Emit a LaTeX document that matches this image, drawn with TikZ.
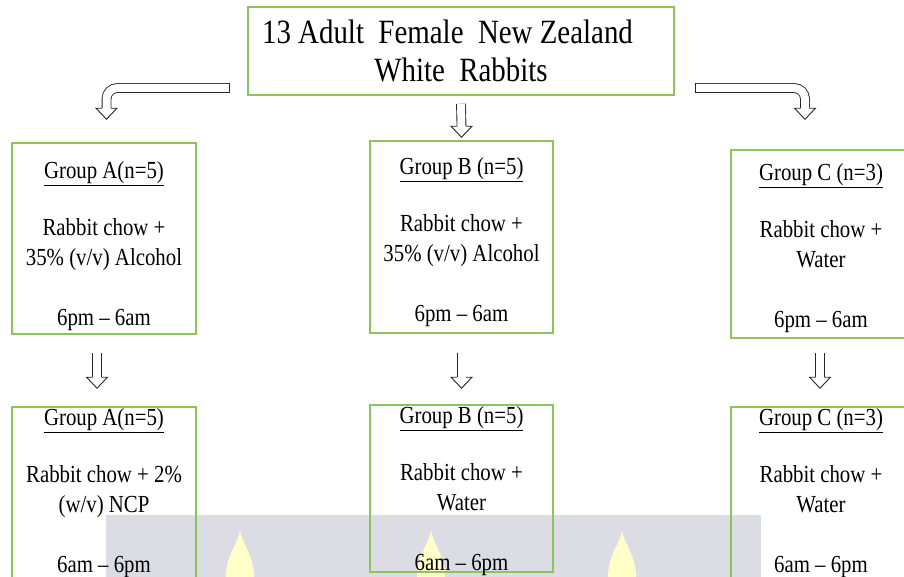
\documentclass[tikz,border=0pt]{standalone}
\usepackage{fontspec}
\setmainfont{Liberation Serif}[FakeStretch=0.85]
\usepackage{tikz}
\usetikzlibrary{positioning,calc}
\definecolor{boxgreen}{RGB}{140,196,90}
\definecolor{markgray}{RGB}{220,220,229}
\definecolor{markflame}{RGB}{255,255,200}
% open arrow head, tip at #1
\newcommand{\hollowhead}[1]{%
  \filldraw[fill=white,draw=black!85,line width=0.9pt,line join=miter]
    ($(#1)+(-4.45,-11)$) -- ++(-6,0) -- (#1) -- ++(10.45,-11) -- ++(-6,0);}

\begin{document}
\begin{tikzpicture}[x=1pt,y=-1pt,
  grp/.style={draw=boxgreen,line width=1.5pt,inner sep=0pt},
  grptext/.style={align=center,inner sep=0pt,font=\fontsize{24.5}{30}\selectfont},
  hollow/.style={draw=black!85,double=white,double distance=8pt,line width=0.9pt}]
\useasboundingbox (0,0) rectangle (904,577);
\fill[white] (0,0) rectangle (904,577);
% Watermark
\fill[markgray] (106,515) rectangle (761,577);
\foreach \fx in {240,431,622}
  \fill[markflame] (\fx,531) .. controls (\fx-3,545) and (\fx-14,556) .. (\fx-14,577)
    -- (\fx+14,577) .. controls (\fx+14,556) and (\fx+3,545) .. (\fx,531);
% Top box
\node[draw=boxgreen,line width=1.5pt,minimum width=426pt,minimum height=88pt,
  align=center,font=\fontsize{34}{38}\selectfont] (rabbits) at (461,51)
  {13 Adult~~Female~~New Zealand\hspace*{27pt}\\White~~Rabbits};
% Night: 6pm - 6am
\node[grp,minimum width=184pt,minimum height=191pt] (grpA1) at (104,238.5) {};
\node[grp,minimum width=183pt,minimum height=192pt] (grpB1) at (461.5,237) {};
\node[grp,minimum width=180pt,minimum height=188pt] (grpC1) at (821,244) {};
\node[grptext] (txtA1) at ($(grpA1.center)+(0,8)$)
  {\underline{Group A(n=5)}\\[27pt]Rabbit chow +\\35\% (v/v) Alcohol\\[30pt]6pm – 6am};
\node[grptext] (txtB1) at ($(grpB1.center)+(0,5)$)
  {\underline{Group B (n=5)}\\[27pt]Rabbit chow +\\35\% (v/v) Alcohol\\[30pt]6pm – 6am};
\node[grptext] (txtC1) at ($(grpC1.center)+(0,4)$)
  {\underline{Group C (n=3)}\\[27pt]Rabbit chow +\\Water\\[30pt]6pm – 6am};
% Day: 6am - 6pm
\node[grp,minimum width=184pt,minimum height=172pt] (grpA2) at (104,493) {};
\node[grp,minimum width=183pt,minimum height=167pt] (grpB2) at (461.5,488.5) {};
\node[grp,minimum width=180pt,minimum height=172pt] (grpC2) at (821,493) {};
\node[grptext] (txtA2) at (grpA2.center)
  {\underline{Group A(n=5)}\\[27pt]Rabbit chow + 2\%\\(w/v) NCP\\[30pt]6am – 6pm};
\node[grptext] (txtB2) at ($(grpB2.center)+(0,3)$)
  {\underline{Group B (n=5)}\\[27pt]Rabbit chow +\\Water\\[30pt]6am – 6pm};
\node[grptext] (txtC2) at (grpC2.center)
  {\underline{Group C (n=3)}\\[27pt]Rabbit chow +\\Water\\[30pt]6am – 6pm};
% Split arrows
\coordinate (barL) at ($(rabbits.west)+(-18,37)$);
\coordinate (tipL) at ($(grpA1.north)+(2.5,-23)$);
\draw[hollow,rounded corners=11pt] (barL) -| ($(tipL)+(0,-11)$);
\draw[black!85,line width=0.9pt] ($(barL)+(0,-4.9)$) -- ($(barL)+(0,4.9)$);
\hollowhead{tipL}
\coordinate (barR) at ($(rabbits.east)+(21,37)$);
\coordinate (tipR) at ($(grpC1.north)+(-16,-30)$);
\draw[hollow,rounded corners=11pt] (barR) -| ($(tipR)+(0,-11)$);
\draw[black!85,line width=0.9pt] ($(barR)+(0,-4.9)$) -- ($(barR)+(0,4.9)$);
\hollowhead{tipR}
\coordinate (tipB) at ($(grpB1.north)+(0,-3)$);
\draw[hollow] ($(rabbits.south)+(0,8)$) -- ($(tipB)+(0,-11)$);
\hollowhead{tipB}
% Night to day
\coordinate (tipA2) at ($(grpA2.north)+(-7,-18)$);
\draw[hollow] ($(grpA1.south)+(-7,18)$) -- ($(tipA2)+(0,-11)$);
\hollowhead{tipA2}
\coordinate (tipB2) at ($(grpB2.north)+(0,-16)$);
\draw[hollow] ($(grpB1.south)+(0,19)$) -- ($(tipB2)+(0,-11)$);
\hollowhead{tipB2}
\coordinate (tipC2) at ($(grpC2.north)+(-1,-18)$);
\draw[hollow] ($(grpC1.south)+(-1,14)$) -- ($(tipC2)+(0,-11)$);
\hollowhead{tipC2}
\end{tikzpicture}
\end{document}
